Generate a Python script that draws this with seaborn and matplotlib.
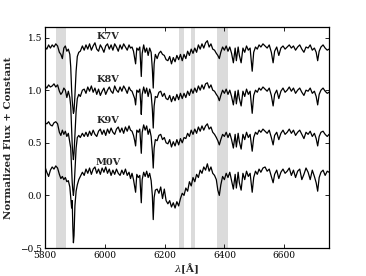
import numpy as np
import pandas as pd
import seaborn as sns
import matplotlib.pyplot as plt

# wavelength grid (Angstrom), shared by all four spectra
wave = [5800, 5806, 5812, 5818, 5824, 5830, 5836, 5842, 5848, 5853, 5858, 5863, 5868, 5873, 5878, 5883,
        5886, 5889, 5891, 5893, 5895, 5897, 5900, 5904, 5908, 5913,
        5918, 5925, 5931, 5937, 5943, 5949, 5955, 5961, 5967, 5973, 5979, 5985, 5991, 5997, 6003, 6009,
        6015, 6021, 6027, 6033, 6039, 6045, 6051, 6057, 6063, 6069, 6075, 6081, 6086, 6091, 6096,
        6100, 6103, 6107, 6112, 6117, 6120, 6122, 6125, 6130, 6135, 6140, 6145, 6150, 6155, 6159, 6162,
        6165, 6169,
        6175, 6181, 6187, 6193, 6199, 6205, 6211, 6217, 6223, 6229, 6235, 6241, 6247, 6253, 6259, 6265,
        6271, 6277, 6283, 6289, 6295, 6301, 6307, 6313, 6319, 6325, 6331, 6337, 6343, 6349, 6355, 6361,
        6367, 6373,
        6378, 6383, 6388, 6394, 6400, 6406, 6412, 6418, 6424, 6430, 6436, 6440, 6446, 6450, 6456, 6462,
        6468, 6474, 6480, 6486, 6493, 6498, 6504, 6510, 6516,
        6522, 6529, 6536, 6543, 6550, 6557, 6563, 6568, 6575, 6582, 6589, 6596, 6603, 6610, 6617, 6624,
        6631, 6638, 6645, 6652, 6659, 6666, 6673, 6680, 6687, 6694, 6701, 6707, 6712, 6717, 6723, 6730,
        6737, 6744, 6750]

k7v = [1.41, 1.39, 1.43, 1.40, 1.43, 1.41, 1.44, 1.42, 1.36, 1.34, 1.30, 1.40, 1.42, 1.37, 1.39, 1.34,
       1.22, 1.00, 0.90, 0.84, 0.78, 0.80, 0.95, 1.18, 1.32, 1.36,
       1.37, 1.42, 1.38, 1.43, 1.39, 1.44, 1.38, 1.42, 1.45, 1.39, 1.37, 1.43, 1.40, 1.36, 1.42, 1.44,
       1.39, 1.43, 1.38, 1.44, 1.41, 1.37, 1.43, 1.39, 1.44, 1.41, 1.38, 1.43, 1.40, 1.41, 1.37,
       1.30, 1.25, 1.40, 1.38, 1.41, 1.25, 1.13, 1.35, 1.43, 1.36, 1.40, 1.33, 1.40, 1.36, 1.20, 1.02,
       1.25, 1.34,
       1.30, 1.35, 1.37, 1.34, 1.33, 1.29, 1.28, 1.32, 1.25, 1.31, 1.27, 1.33, 1.29, 1.34, 1.28, 1.34,
       1.30, 1.37, 1.33, 1.39, 1.35, 1.40, 1.36, 1.43, 1.39, 1.44, 1.40, 1.45, 1.47, 1.41, 1.44, 1.39,
       1.38, 1.35,
       1.33, 1.30, 1.36, 1.41, 1.38, 1.42, 1.37, 1.41, 1.35, 1.26, 1.40, 1.28, 1.41, 1.33, 1.26, 1.40,
       1.36, 1.42, 1.38, 1.40, 1.18, 1.36, 1.41, 1.39, 1.43,
       1.41, 1.44, 1.42, 1.40, 1.43, 1.36, 1.26, 1.37, 1.41, 1.33, 1.40, 1.42, 1.39, 1.41, 1.43, 1.40,
       1.42, 1.38, 1.41, 1.43, 1.39, 1.36, 1.41, 1.40, 1.43, 1.38, 1.40, 1.36, 1.28, 1.37, 1.41, 1.43,
       1.40, 1.38, 1.39]

k8v = [1.04, 1.02, 1.05, 1.03, 1.04, 1.06, 1.03, 1.05, 0.99, 0.96, 0.98, 1.02, 1.00, 0.93, 0.99, 0.93,
       0.85, 0.62, 0.48, 0.40, 0.34, 0.40, 0.58, 0.80, 0.92, 0.96,
       0.94, 1.00, 1.01, 0.97, 1.03, 0.99, 1.04, 0.98, 1.02, 0.96, 1.01, 0.95, 0.99, 1.02, 0.96, 1.00,
       1.03, 0.99, 0.97, 1.04, 1.00, 0.98, 1.03, 0.99, 1.04, 1.01, 0.97, 1.03, 1.00, 0.99, 0.95,
       0.92, 0.86, 1.00, 0.98, 1.01, 0.88, 0.77, 0.96, 1.03, 0.97, 1.02, 0.94, 1.01, 0.96, 0.82, 0.64,
       0.85, 0.94,
       0.93, 0.98, 0.99, 0.94, 0.97, 0.92, 0.91, 0.95, 0.89, 0.94, 0.90, 0.96, 0.91, 0.97, 0.92, 0.97,
       0.93, 0.99, 0.95, 1.01, 0.97, 1.02, 0.98, 1.04, 1.00, 1.05, 1.01, 1.06, 1.07, 1.02, 1.05, 1.00,
       0.99, 0.96,
       0.94, 0.90, 0.95, 1.00, 0.97, 1.01, 0.96, 1.00, 0.94, 0.86, 0.99, 0.87, 1.00, 0.92, 0.85, 0.99,
       0.94, 1.01, 0.96, 0.99, 0.78, 0.95, 1.00, 0.98, 1.02,
       1.00, 1.03, 1.01, 0.99, 1.02, 0.95, 0.85, 0.96, 1.00, 0.92, 0.99, 1.02, 0.98, 1.00, 1.03, 0.99,
       1.02, 0.97, 1.00, 1.02, 0.98, 0.95, 1.00, 0.99, 1.02, 0.97, 0.99, 0.94, 0.86, 0.96, 1.00, 1.02,
       0.99, 0.97, 0.98]

k9v = [0.69, 0.68, 0.70, 0.67, 0.66, 0.69, 0.70, 0.68, 0.60, 0.57, 0.62, 0.58, 0.61, 0.56, 0.59, 0.50,
       0.45, 0.25, 0.12, 0.05, 0.00, 0.06, 0.22, 0.45, 0.55, 0.57,
       0.55, 0.59, 0.56, 0.60, 0.56, 0.61, 0.57, 0.62, 0.58, 0.56, 0.61, 0.63, 0.58, 0.62, 0.57, 0.63,
       0.59, 0.64, 0.60, 0.58, 0.63, 0.65, 0.60, 0.64, 0.59, 0.65, 0.61, 0.66, 0.62, 0.61, 0.57,
       0.52, 0.47, 0.62, 0.60, 0.63, 0.50, 0.40, 0.60, 0.67, 0.62, 0.66, 0.58, 0.63, 0.56, 0.42, 0.26,
       0.45, 0.53,
       0.52, 0.57, 0.58, 0.53, 0.55, 0.50, 0.49, 0.53, 0.46, 0.51, 0.47, 0.53, 0.48, 0.54, 0.50, 0.55,
       0.54, 0.59, 0.56, 0.62, 0.58, 0.63, 0.59, 0.65, 0.61, 0.66, 0.62, 0.66, 0.68, 0.63, 0.65, 0.60,
       0.58, 0.55,
       0.52, 0.48, 0.53, 0.58, 0.56, 0.60, 0.55, 0.59, 0.53, 0.45, 0.58, 0.46, 0.59, 0.51, 0.44, 0.58,
       0.53, 0.60, 0.55, 0.58, 0.42, 0.55, 0.60, 0.58, 0.62,
       0.60, 0.63, 0.61, 0.59, 0.62, 0.55, 0.48, 0.57, 0.60, 0.53, 0.59, 0.62, 0.58, 0.60, 0.63, 0.59,
       0.62, 0.57, 0.60, 0.62, 0.58, 0.54, 0.60, 0.58, 0.61, 0.56, 0.59, 0.54, 0.47, 0.56, 0.60, 0.61,
       0.58, 0.56, 0.58]

m0v = [0.27, 0.22, 0.18, 0.24, 0.27, 0.25, 0.28, 0.26, 0.20, 0.16, 0.18, 0.15, 0.17, 0.13, 0.14, 0.08,
       -0.02, -0.12, -0.05, -0.30, -0.45, -0.38, -0.10, 0.04, 0.10, 0.15,
       0.18, 0.22, 0.19, 0.25, 0.21, 0.26, 0.20, 0.25, 0.27, 0.21, 0.25, 0.20, 0.26, 0.22, 0.27, 0.21,
       0.25, 0.19, 0.24, 0.20, 0.25, 0.21, 0.19, 0.24, 0.20, 0.25, 0.19, 0.22, 0.16, 0.21, 0.15,
       0.08, 0.03, 0.20, 0.17, 0.19, 0.04, -0.07, 0.15, 0.22, 0.18, 0.23, 0.17, 0.21, 0.14, 0.00, -0.23,
       -0.02, 0.05,
       0.06, 0.02, 0.08, -0.03, 0.06, -0.05, -0.08, -0.05, -0.11, -0.07, -0.12, -0.06, -0.10, -0.03, 0.02, 0.00,
       0.07, 0.04, 0.13, 0.09, 0.17, 0.13, 0.20, 0.17, 0.24, 0.21, 0.27, 0.24, 0.30, 0.23, 0.27, 0.21,
       0.19, 0.15,
       0.05, 0.00, 0.10, 0.18, 0.15, 0.21, 0.17, 0.22, 0.14, 0.06, 0.20, 0.07, 0.22, 0.12, 0.05, 0.21,
       0.15, 0.23, 0.18, 0.21, 0.03, 0.17, 0.23, 0.20, 0.25,
       0.22, 0.26, 0.27, 0.23, 0.25, 0.18, 0.12, 0.20, 0.24, 0.16, 0.22, 0.25, 0.21, 0.23, 0.26, 0.19,
       0.24, 0.17, 0.23, 0.25, 0.15, 0.20, 0.26, 0.22, 0.15, 0.24, 0.18, 0.12, 0.04, 0.17, 0.22, 0.24,
       0.19, 0.23, 0.22]

names = ["K7V", "K8V", "K9V", "M0V"]
label_y = [1.51, 1.10, 0.71, 0.31]
label_x = 6010

# shaded wavelength windows
bands = [(5837, 5870), (6249, 6264), (6289, 6302), (6374, 6413)]

df = pd.DataFrame({"wave": wave * 4,
                   "flux": k7v + k8v + k9v + m0v,
                   "star": np.repeat(names, len(wave))})

sns.set_style("ticks")
plt.rcParams["font.family"] = ["DejaVu Serif"]
plt.rcParams["mathtext.fontset"] = "dejavuserif"

fig = plt.figure(figsize=(3.66, 2.76), dpi=100)
ax = fig.add_axes([0.123, 0.1014, 0.776, 0.8007])

for lo, hi in bands:
    ax.axvspan(lo, hi, color="0.86", lw=0, zorder=0)

sns.lineplot(data=df, x="wave", y="flux", units="star", estimator=None,
             sort=False, color="black", lw=0.9, ax=ax, legend=False)

for name, yy in zip(names, label_y):
    ax.text(label_x, yy, name, ha="center", va="center", fontsize=7, fontweight="bold")

ax.set_xlim(5800, 6750)
ax.set_ylim(-0.5, 1.6)
ax.set_xticks([5800, 6000, 6200, 6400, 6600])
ax.set_yticks([-0.5, 0.0, 0.5, 1.0, 1.5])
ax.tick_params(direction="in", top=True, right=True, length=3, width=0.6,
               labelsize=6.5, pad=2, colors="black")
for s in ax.spines.values():
    s.set_linewidth(0.9)
    s.set_color("black")

ax.set_xlabel(r"$\lambda$[$\mathbf{\AA}$]", fontsize=7.5, fontweight="bold", labelpad=1)
ax.set_ylabel("Normalized Flux + Constant", fontsize=7.4, fontweight="bold", labelpad=5)

fig.savefig("out.png", dpi=100)
